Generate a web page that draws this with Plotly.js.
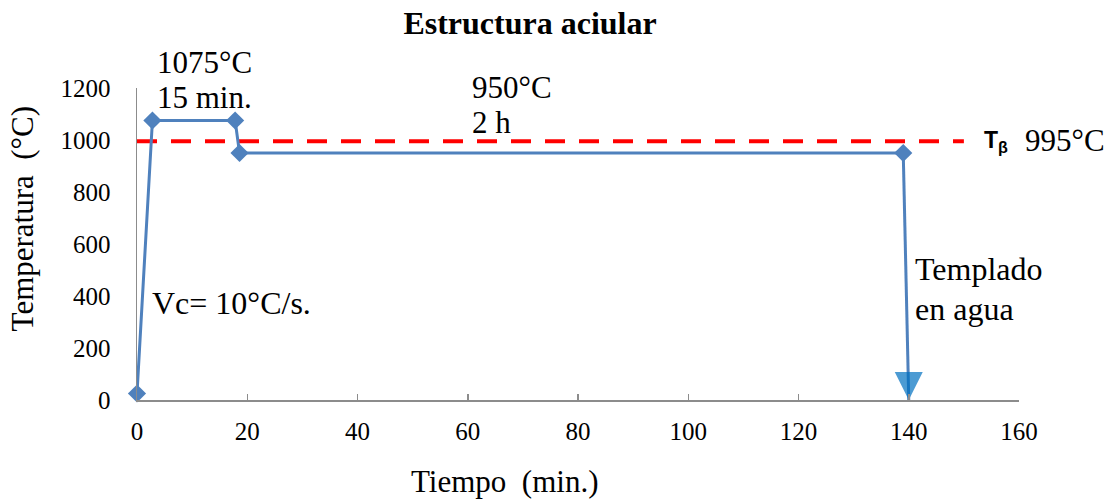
<!DOCTYPE html>
<html><head><meta charset="utf-8">
<script src="https://cdn.plot.ly/plotly-3.0.1.min.js"></script>
<style>body{margin:0;background:#fff}#chart{width:1110px;height:502px}</style>
</head><body><div id="chart"></div>
<script>
// Heat-treatment cycle
const cycleTime = [0, 2.8, 17.8, 18.6, 139];
const cycleTemp = [25, 1075, 1075, 950, 950];
const quenchTime = [139, 140];
const quenchTemp = [950, 0];
const betaTransusTime = [0, 150];
const betaTransusTemp = [995, 995];
const xTicks = [0, 20, 40, 60, 80, 100, 120, 140, 160];
const yTicks = [0, 200, 400, 600, 800, 1000, 1200];

const serif = "Liberation Serif, Times New Roman, serif";
const blue = "#4F81BD";

const traces = [
  {x: betaTransusTime, y: betaTransusTemp, mode: "lines", hoverinfo: "skip", cliponaxis: false,
   line: {color: "#FF0000", width: 4, dash: "20px,14px"}},
  {x: quenchTime, y: quenchTemp, mode: "lines+markers", cliponaxis: false,
   line: {color: blue, width: 3},
   marker: {symbol: ["circle", "arrow-down"], size: [1, 28], color: ["rgba(0,0,0,0)", "#0070C0"], line: {width: 0}}},
  {x: cycleTime, y: cycleTemp, mode: "lines+markers", cliponaxis: false,
   line: {color: blue, width: 3},
   marker: {symbol: "diamond", size: 14, color: blue, line: {width: 0}}}
];

const layout = {
  width: 1110, height: 502,
  margin: {l: 137, r: 91, t: 88, b: 102},
  paper_bgcolor: "#fff", plot_bgcolor: "#fff",
  showlegend: false,
  font: {family: serif, color: "#000", size: 25},
  title: {text: "<b>Estructura aciular</b>", font: {family: serif, size: 32, color: "#000"},
          x: 0.4775, xanchor: "center", y: 0.954, yanchor: "middle"},
  xaxis: {range: [0, 160], tickvals: xTicks, ticktext: xTicks.map(String),
          showgrid: false, zeroline: false, showline: true, linecolor: "#8C8C8C", linewidth: 1.5,
          ticks: "inside", ticklen: 6, tickcolor: "#8C8C8C", tickwidth: 1.5,
          ticklabelstandoff: 8, tickfont: {family: serif, size: 25, color: "#000"}},
  yaxis: {range: [0, 1200], tickvals: yTicks, ticktext: yTicks.map(String),
          showgrid: false, zeroline: false, showline: true, linecolor: "#8C8C8C", linewidth: 1.5,
          ticks: "", ticklabelstandoff: 20, tickfont: {family: serif, size: 25, color: "#000"}},
  annotations: [
    // axis titles (offset from the plot centre as in the original)
    {xref: "paper", yref: "paper", x: 0.417, y: -0.262, xanchor: "center", yanchor: "middle",
     text: "Tiempo  (min.)", showarrow: false, font: {family: serif, size: 31}},
    {xref: "paper", yref: "paper", x: -0.13, y: 0.580, xanchor: "center", yanchor: "middle",
     textangle: -90, text: "Temperatura  (°C)", showarrow: false, font: {family: serif, size: 31}},
    // labels
    {xref: "paper", yref: "paper", x: 0.0204, y: 1.083, xanchor: "left", yanchor: "middle",
     text: "1075°C", showarrow: false, font: {family: serif, size: 31}},
    {xref: "paper", yref: "paper", x: 0.0204, y: 0.968, xanchor: "left", yanchor: "middle",
     text: "15 min.", showarrow: false, font: {family: serif, size: 31}},
    {xref: "paper", yref: "paper", x: 0.3776, y: 1.003, xanchor: "left", yanchor: "middle",
     text: "950°C", showarrow: false, font: {family: serif, size: 31}},
    {xref: "paper", yref: "paper", x: 0.3776, y: 0.891, xanchor: "left", yanchor: "middle",
     text: "2 h", showarrow: false, font: {family: serif, size: 31}},
    {xref: "paper", yref: "paper", x: 0.0147, y: 0.311, xanchor: "left", yanchor: "middle",
     text: "Vc= 10°C/s.", showarrow: false, font: {family: serif, size: 32}},
    {xref: "paper", yref: "paper", x: 0.880, y: 0.42, xanchor: "left", yanchor: "middle",
     text: "Templado", showarrow: false, font: {family: serif, size: 32}},
    {xref: "paper", yref: "paper", x: 0.880, y: 0.292, xanchor: "left", yanchor: "middle",
     text: "en agua", showarrow: false, font: {family: serif, size: 32}},
    {xref: "paper", yref: "paper", x: 0.958, y: 0.83, xanchor: "left", yanchor: "middle",
     text: "<b>T<sub>β</sub></b>", showarrow: false, font: {family: "Liberation Sans, Arial, sans-serif", size: 23}},
    {xref: "paper", yref: "paper", x: 1.0045, y: 0.833, xanchor: "left", yanchor: "middle",
     text: "995°C", showarrow: false, font: {family: serif, size: 31}}
  ]
};

Plotly.newPlot("chart", traces, layout, {displayModeBar: false, staticPlot: true});
</script>
</body></html>
